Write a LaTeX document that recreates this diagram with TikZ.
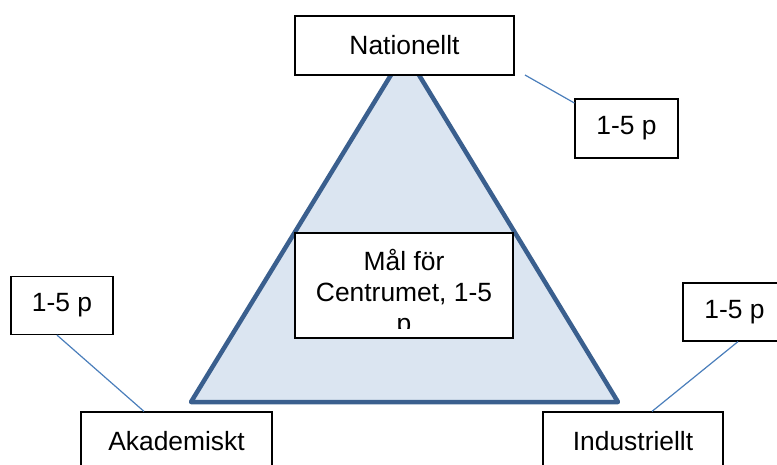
\documentclass[tikz,border=0pt]{standalone}
\usepackage{fontspec}
\setmainfont{Liberation Sans}
\definecolor{triline}{HTML}{3A5F8E}
\definecolor{trifill}{HTML}{DBE5F1}
\definecolor{linkline}{HTML}{4A7EBB}
\tikzset{
  box/.style={draw=black, line width=1.2pt, fill=white, inner sep=0pt,
    font=\fontsize{26.4}{31}\selectfont},
  link/.style={draw=linkline, line width=1.2pt},
}
\begin{document}
\begin{tikzpicture}[x=1pt, y=-1pt]
      \useasboundingbox (0,0) rectangle (777,464);
      \fill[trifill, draw=triline, line width=4.5pt, line join=round]
        (405,52) -- (618,402) -- (191,402) -- cycle;
      \draw
        (404.5,45.5) node[box, minimum width=219, minimum height=59] (nat){Nationellt}
        (626.5,128.5) node[box, minimum width=103, minimum height=59] (pnat){1-5 p}
        (62,305.5) node[box, minimum width=102, minimum height=58] (paka){1-5 p}
        (734.5,312) node[box, minimum width=103, minimum height=58] (pind){1-5 p}
        (176.5,441) node[box, minimum width=191, minimum height=58] (aka){Akademiskt}
        (633,441) node[box, minimum width=180, minimum height=58] (ind){Industriellt}
        (404,285.5) node[box, minimum width=218, minimum height=105] (mal){};
      \coordinate (natend) at (525,75);
      \begin{scope}
        \clip (296,234) rectangle (512,328);
        \node[font=\fontsize{26.4}{31}\selectfont, align=center, anchor=north]
          (maltext) at (404,246) {Mål för\\Centrumet, 1-5\\p};
      \end{scope}
      \begin{scope}[link]
        \draw (natend) to (pnat.west |- 0,103);
        \draw (paka.south -| 57,0) to (aka.north -| 144,0);
        \draw (pind.south -| 738,0) to (ind.north -| 652,0);
      \end{scope}
    \end{tikzpicture}
\end{document}
